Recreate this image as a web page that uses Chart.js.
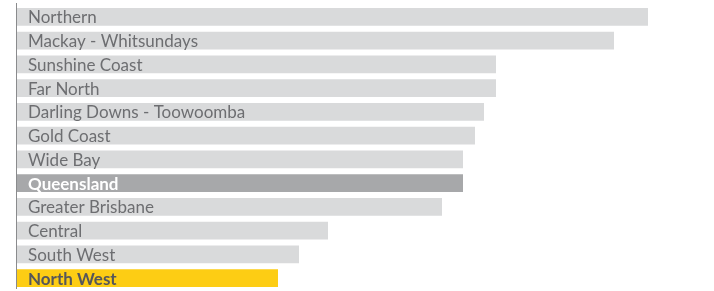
<!DOCTYPE html>
<html>
<head>
<meta charset="utf-8">
<script src="https://cdn.jsdelivr.net/npm/chart.js@4"></script>
<style>
html,body{margin:0;padding:0;background:#fff;}
#wrap{width:714px;height:291px;position:relative;}
</style>
</head>
<body>
<div id="wrap"><canvas id="c"></canvas></div>
<script>
const categories = ["Northern","Mackay - Whitsundays","Sunshine Coast","Far North","Darling Downs - Toowoomba","Gold Coast","Wide Bay","Queensland","Greater Brisbane","Central","South West","North West"];
const values = [63.1, 59.7, 47.9, 47.9, 46.7, 45.8, 44.6, 44.6, 42.5, 31.1, 28.2, 26.1];
const highlightTotal = "Queensland";
const highlightRegion = "North West";

const barColors = categories.map(c => c === highlightTotal ? "#a7a8aa" : (c === highlightRegion ? "#fdcd14" : "#d9dadb"));
const labelColors = categories.map(c => c === highlightTotal ? "#ffffff" : (c === highlightRegion ? "#55565a" : "#6d6e71"));
const labelWeights = categories.map(c => (c === highlightTotal || c === highlightRegion) ? "bold" : "normal");

const insideLabels = {
  id: "insideLabels",
  afterDatasetsDraw(chart) {
    const ctx = chart.ctx;
    const meta = chart.getDatasetMeta(0);
    ctx.save();
    ctx.textBaseline = "middle";
    ctx.textAlign = "left";
    meta.data.forEach((bar, i) => {
      ctx.font = labelWeights[i] + " 17px Lato";
      ctx.fillStyle = labelColors[i];
      ctx.fillText(categories[i], bar.base + 11, bar.y + 1);
    });
    ctx.restore();
  }
};
const leftLine = {
  id: "leftLine",
  afterDraw(chart) {
    const ctx = chart.ctx, a = chart.chartArea;
    ctx.save();
    ctx.strokeStyle = "#8a8b8d";
    ctx.lineWidth = 1;
    ctx.beginPath();
    ctx.moveTo(a.left - 0.5, a.top - 2);
    ctx.lineTo(a.left - 0.5, a.bottom - 1);
    ctx.stroke();
    ctx.restore();
  }
};

new Chart(document.getElementById("c"), {
  type: "bar",
  data: {
    labels: categories,
    datasets: [{ data: values, backgroundColor: barColors, borderWidth: 0, categoryPercentage: 1, barPercentage: 0.757 }]
  },
  options: {
    indexAxis: "y",
    responsive: true,
    maintainAspectRatio: false,
    animation: false,
    layout: { padding: { left: 17, top: 5, bottom: 1, right: 0 } },
    plugins: { legend: { display: false }, tooltip: { enabled: false } },
    scales: {
      x: { display: false, min: 0, max: 69.7 },
      y: { display: false }
    }
  },
  plugins: [insideLabels, leftLine]
});
</script>
</body>
</html>
